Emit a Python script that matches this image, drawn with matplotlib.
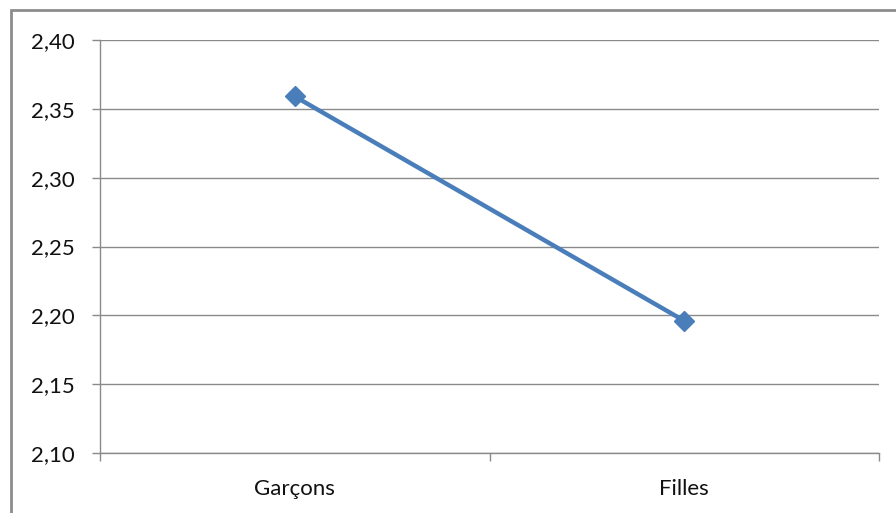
import matplotlib
matplotlib.use("Agg")
import matplotlib.pyplot as plt
from matplotlib.patches import Rectangle
from matplotlib.ticker import FixedLocator, FuncFormatter

categories = ["Garçons", "Filles"]
values = [2.359, 2.196]
y_ticks = [2.10, 2.15, 2.20, 2.25, 2.30, 2.35, 2.40]

plt.rcParams['font.family'] = ['Lato', 'DejaVu Sans']

W, H = 896, 513
fig = plt.figure(figsize=(W / 100, H / 100), dpi=100)

# outer chart frame (runs off the right and bottom edges)
fig.patches.append(Rectangle((11 / W, -0.1), 2.0, 1 - 10 / H + 0.1,
                             transform=fig.transFigure, fill=False,
                             edgecolor="#8c8c8c", linewidth=2.0, zorder=0))

ax = fig.add_axes([100 / W, 1 - 453 / H, (879 - 100) / W, (453 - 40) / H])

x = list(range(len(categories)))
ax.plot(x, values, color="#4A7EBB", linewidth=3.2, marker="D",
        markersize=10.5, markerfacecolor="#4A7EBB", markeredgecolor="#4A7EBB",
        zorder=3, solid_capstyle="butt")

ax.set_xlim(-0.5, len(categories) - 0.5)
ax.set_ylim(y_ticks[0], y_ticks[-1])
ax.yaxis.set_major_locator(FixedLocator(y_ticks))
ax.yaxis.set_major_formatter(FuncFormatter(lambda v, p: f"{v:.2f}".replace(".", ",")))
ax.grid(axis="y", color="#8a8a8a", linewidth=1.0)
ax.set_axisbelow(True)

# category labels centred between boundary ticks
ax.set_xticks(x)
ax.set_xticklabels(categories)
ax.tick_params(axis="x", length=0, pad=19, labelsize=16, labelcolor="#111111")
ax.set_xticks([-0.5, 0.5, 1.5], minor=True)
ax.tick_params(axis="x", which="minor", length=6, color="#8a8a8a", width=1.0)
ax.tick_params(axis="y", length=6, color="#8a8a8a", width=1.0, pad=12,
               labelsize=16, labelcolor="#111111")

for side in ("top", "right"):
    ax.spines[side].set_visible(False)
for side in ("left", "bottom"):
    ax.spines[side].set_color("#8a8a8a")
    ax.spines[side].set_linewidth(1.0)

fig.savefig("out.png", dpi=100)
